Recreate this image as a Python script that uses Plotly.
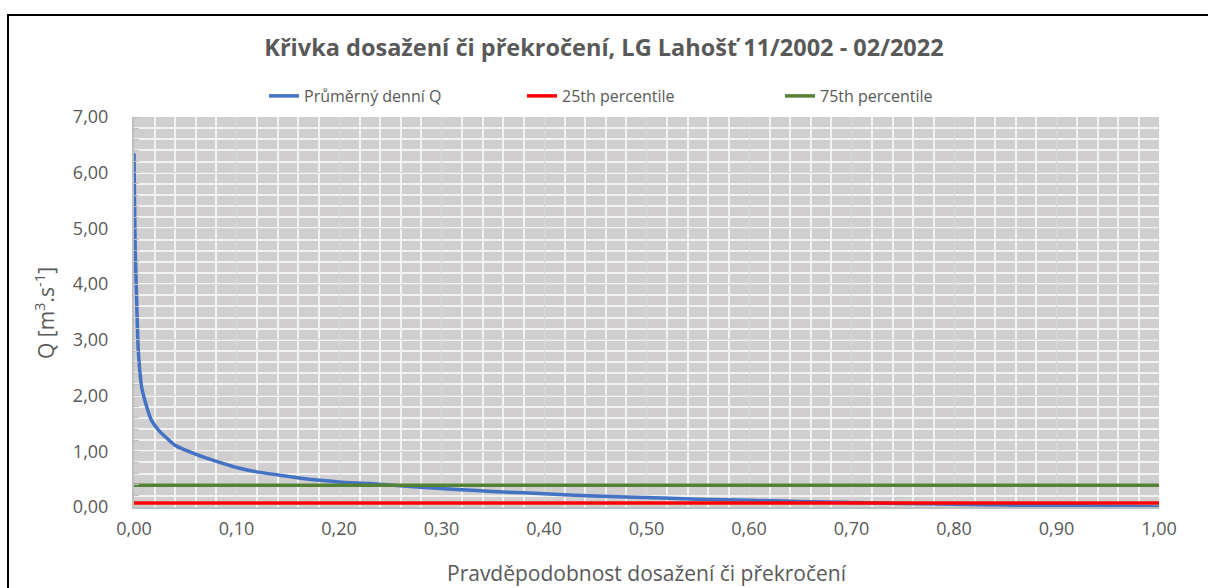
import plotly.graph_objects as go

# ---- data ----
prob = [0.0, 0.0005, 0.0012, 0.0026, 0.0042, 0.0075, 0.0124, 0.017, 0.024, 0.04, 0.06,
        0.082, 0.10, 0.12, 0.15, 0.165, 0.20, 0.23, 0.26, 0.30, 0.33, 0.36, 0.40, 0.43,
        0.48, 0.55, 0.60, 0.65, 0.70, 0.75, 0.80, 0.85, 0.90, 0.95, 1.0]
q_daily = [6.35, 5.5, 4.6, 3.7, 2.8, 2.15, 1.8, 1.56, 1.38, 1.11, 0.95,
           0.81, 0.71, 0.63, 0.55, 0.51, 0.45, 0.42, 0.38, 0.33, 0.30, 0.27, 0.24, 0.21,
           0.18, 0.14, 0.12, 0.10, 0.08, 0.065, 0.05, 0.035, 0.025, 0.015, 0.0]
p25 = 0.07
p75 = 0.39

TITLE = "Křivka dosažení či překročení, LG Lahošť 11/2002 - 02/2022"
XLABEL = "Pravděpodobnost dosažení či překročení"
YLABEL = "Q [m<sup>3</sup>.s<sup>-1</sup>]"

FONT = "Open Sans"
GREY = "#595959"

W, H = 1208, 588
L, R, T, B = 134, 49, 117, 81
pw, ph = W - L - R, H - T - B


def px_x(x):
    return (x - L) / pw


def px_y(y):
    return (H - B - y) / ph


fig = go.Figure()
fig.add_trace(go.Scatter(x=prob, y=q_daily, mode='lines', name='Průměrný denní Q',
                         line=dict(color='#4472C4', width=3.5, shape='spline', smoothing=0.6)))
fig.add_trace(go.Scatter(x=[0, 1], y=[p25, p25], mode='lines', name='25th percentile',
                         line=dict(color='#FF0000', width=3.5)))
fig.add_trace(go.Scatter(x=[0, 1], y=[p75, p75], mode='lines', name='75th percentile',
                         line=dict(color='#548235', width=3.5)))

fig.update_layout(
    width=W, height=H,
    margin=dict(l=L, r=R, t=T, b=B, autoexpand=False),
    paper_bgcolor='white', plot_bgcolor='#D0CECE',
    separators=', ',
    font=dict(family=FONT, color=GREY, size=16),
    title=dict(text=f"<b>{TITLE}</b>", x=0.5, xref='container', xanchor='center',
               y=1 - 48 / H, yref='container', yanchor='middle',
               font=dict(size=23.5, color=GREY)),
    legend=dict(orientation='h', x=264 / W, xref='container', xanchor='left',
                y=1 - 96 / H, yref='container', yanchor='middle',
                font=dict(size=16, color=GREY), entrywidth=213, entrywidthmode='pixels',
                bgcolor='rgba(0,0,0,0)'),
    showlegend=True,
)

fig.update_xaxes(range=[0, 1], dtick=0.1, tickformat='.2f', showgrid=True,
                 gridcolor='#D9D9D9', gridwidth=1,
                 minor=dict(dtick=0.02, showgrid=True, gridcolor='#F2F2F2', gridwidth=2),
                 showline=True, linecolor='#BFBFBF', linewidth=2, zeroline=False,
                 ticks='outside', ticklen=4, tickcolor='rgba(0,0,0,0)',
                 tickfont=dict(size=18, color=GREY), automargin=False)
fig.update_yaxes(range=[0, 7], dtick=1, tickformat='.2f', showgrid=True,
                 gridcolor='#D9D9D9', gridwidth=1,
                 minor=dict(dtick=0.2, showgrid=True, gridcolor='#F2F2F2', gridwidth=2,
                            ticks='inside', ticklen=5, tickcolor='#BFBFBF'),
                 showline=True, linecolor='#BFBFBF', linewidth=2, zeroline=False,
                 ticks='outside', ticklen=20, tickcolor='rgba(0,0,0,0)',
                 tickfont=dict(size=18, color=GREY), automargin=False)

fig.add_annotation(text=YLABEL, xref='paper', yref='paper', x=px_x(44), y=px_y(313),
                   xanchor='center', yanchor='middle',
                   textangle=-90, showarrow=False, font=dict(size=21, color=GREY))
fig.add_annotation(text=XLABEL, xref='paper', yref='paper', x=0.5, y=px_y(573),
                   xanchor='center', yanchor='middle',
                   showarrow=False, font=dict(size=21, color=GREY))

# chart frame
fig.add_shape(type='rect', xref='paper', yref='paper',
              x0=px_x(8), x1=px_x(W + 20), y0=px_y(H + 20), y1=px_y(15),
              line=dict(color='black', width=2), fillcolor='rgba(0,0,0,0)', layer='below')

fig.write_html("out.html", config={'displayModeBar': False},
               post_script="document.body.style.margin='0';")
